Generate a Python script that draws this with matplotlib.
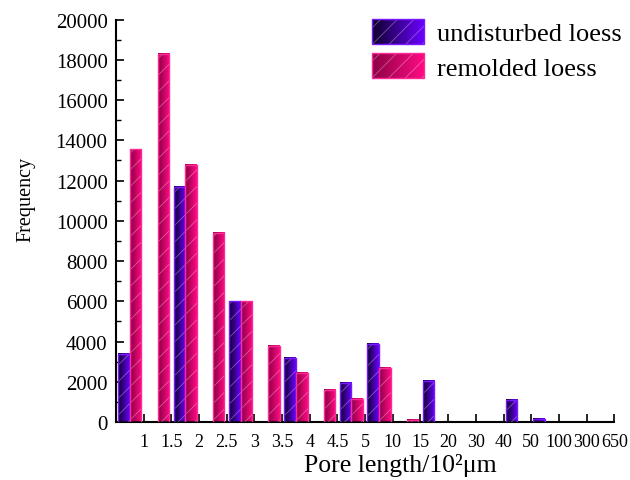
import matplotlib
matplotlib.use('Agg')
import matplotlib.pyplot as plt
import numpy as np
from matplotlib.colors import LinearSegmentedColormap
from matplotlib.patches import Rectangle
from matplotlib.legend_handler import HandlerBase

# ---- data ----
tick_labels = ['1', '1.5', '2', '2.5', '3', '3.5', '4', '4.5', '5',
               '10', '15', '20', '30', '40', '50', '100', '300', '650']
undisturbed = [3400, 0, 11700, 0, 6000, 0, 3200, 0, 1950, 3900,
               0, 2050, 0, 0, 1100, 150, 0, 0]
remolded = [13550, 18300, 12800, 9400, 6000, 3800, 2450, 1600, 1150, 2700,
            110, 0, 0, 0, 0, 0, 0, 0]
series_names = ['undisturbed loess', 'remolded loess']
y_label = 'Frequency'
x_label = 'Pore length/10²μm'

# ---- style ----
plt.rcParams['font.family'] = ['Liberation Serif', 'DejaVu Serif']
plt.rcParams['hatch.linewidth'] = 0.6
styles = [dict(dark='#0c0028', light='#6a00ff', edge='#7a18ff'),
          dict(dark='#8a0042', light='#ff0a84', edge='#ff2a95')]

fig = plt.figure(figsize=(6.3, 4.81), dpi=100)
ax = fig.add_axes([0.1841, 0.1206, 0.7909, 0.8364])

n = len(undisturbed)
centers = np.arange(n) + 0.5
w = 0.42
grad = np.linspace(0, 1, 64).reshape(1, -1)


def draw_series(values, offset, st):
    bars = ax.bar(centers + offset, values, width=w, facecolor='none',
                  edgecolor=st['edge'], linewidth=1.0, zorder=4)
    cmap = LinearSegmentedColormap.from_list('g', [st['dark'], st['light']])
    for b in bars:
        h = b.get_height()
        if h <= 0:
            b.set_visible(False)
            continue
        x0 = b.get_x()
        x1 = x0 + b.get_width()
        ax.imshow(grad, cmap=cmap, extent=[x0, x1, 0, h], aspect='auto',
                  origin='lower', interpolation='bilinear', zorder=2)
        ax.add_patch(Rectangle((x0, 0), b.get_width(), h, facecolor='none',
                               edgecolor=(1, 1, 1, 0.35), linewidth=0,
                               hatch='//', zorder=3))
    return bars


b1 = draw_series(undisturbed, -w / 2, styles[0])
b2 = draw_series(remolded, w / 2, styles[1])

ax.set_xlim(0, n)
ax.set_ylim(0, 20000)
ax.set_xticks(np.arange(1, n + 1))
ax.set_xticklabels(tick_labels)
ax.set_yticks(np.arange(0, 20001, 2000))
ax.set_yticks(np.arange(0, 20001, 1000), minor=True)
ax.tick_params(axis='both', which='major', direction='in', length=6,
               width=1.2, pad=6)
ax.tick_params(axis='y', which='major', labelsize=15)
ax.tick_params(axis='x', which='major', labelsize=13, pad=8)
ax.tick_params(axis='y', which='minor', direction='in', length=3.5, width=1.0)
for s in ['top', 'right']:
    ax.spines[s].set_visible(False)
for s in ['left', 'bottom']:
    ax.spines[s].set_linewidth(1.5)

ax.set_ylabel(y_label, fontsize=14.5)
ax.yaxis.set_label_coords(-0.162, 0.555)
ax.set_xlabel(x_label, fontsize=18.5)
ax.xaxis.set_label_coords(0.57, -0.077)


class GradHandler(HandlerBase):
    def __init__(self, st):
        super().__init__()
        self.st = st

    def create_artists(self, legend, orig_handle, xdescent, ydescent,
                       width, height, fontsize, trans):
        cmap = LinearSegmentedColormap.from_list('g', [self.st['dark'], self.st['light']])
        arts = []
        k = 24
        for i in range(k):
            r = Rectangle((-xdescent + width * i / k, -ydescent), width / k + 0.3,
                          height, facecolor=cmap((i + 0.5) / k), edgecolor='none',
                          linewidth=0, transform=trans)
            arts.append(r)
        arts.append(Rectangle((-xdescent, -ydescent), width, height,
                              facecolor='none', edgecolor=(1, 1, 1, 0.35),
                              linewidth=0, hatch='//', transform=trans))
        arts.append(Rectangle((-xdescent, -ydescent), width, height,
                              facecolor='none', edgecolor=self.st['edge'],
                              linewidth=1.0, transform=trans))
        return arts


h1 = Rectangle((0, 0), 1, 1)
h2 = Rectangle((0, 0), 1, 1)
fig.legend([h1, h2], series_names, loc='upper left',
           bbox_to_anchor=(372 / 630, 1 - 20 / 481), frameon=False,
           fontsize=19, handlelength=1.97, handleheight=1.08,
           handletextpad=0.5, labelspacing=0.3, borderpad=0,
           borderaxespad=0,
           handler_map={h1: GradHandler(styles[0]), h2: GradHandler(styles[1])})

fig.savefig('out.png', dpi=100)
